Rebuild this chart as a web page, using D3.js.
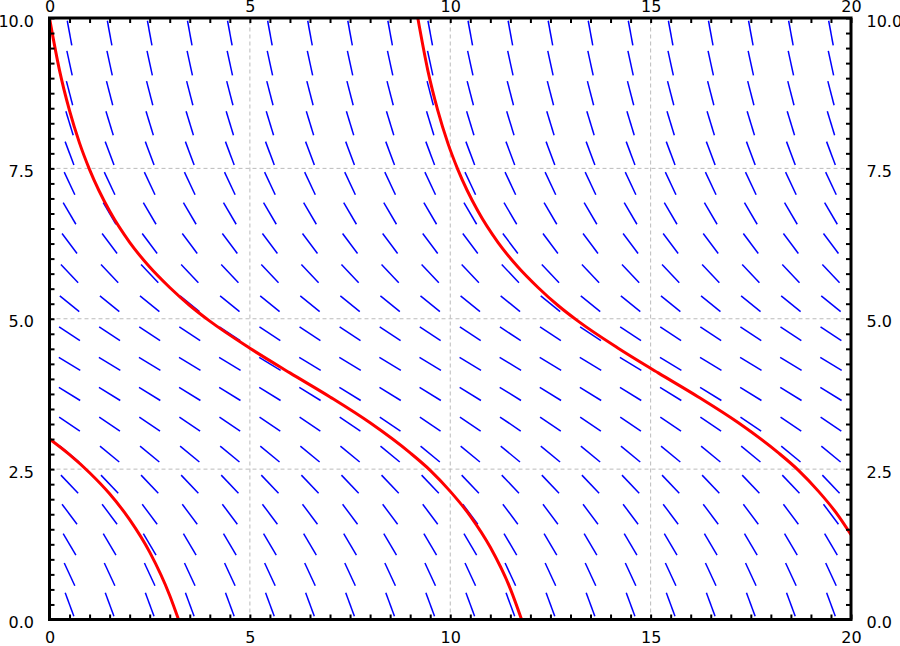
<!DOCTYPE html>
<html><head><meta charset="utf-8">
<script src="https://cdn.jsdelivr.net/npm/d3@7"></script>
<style>body{margin:0;background:#fff} svg{display:block}</style>
</head><body><svg id="chart" width="900" height="646"></svg>
<script>
// ---- data ----
const xTicks = [0, 5, 10, 15, 20];
const yTicks = [0, 2.5, 5, 7.5, 10];
const xGrid = [5, 10, 15];
const yGrid = [2.5, 5, 7.5];
const fieldX = [0.5,1.5,2.5,3.5,4.5,5.5,6.5,7.5,8.5,9.5,10.5,11.5,12.5,13.5,14.5,15.5,16.5,17.5,18.5,19.5];
const fieldY = [0.25,0.75,1.25,1.75,2.25,2.75,3.25,3.75,4.25,4.75,5.25,5.75,6.25,6.75,7.25,7.75,8.25,8.75,9.25,9.75];
const fieldSlopes = [-1.80,-1.43,-1.13,-0.89,-0.70,-0.55,-0.45,-0.41,-0.40,-0.44,-0.54,-0.70,-0.89,-1.13,-1.42,-1.78,-2.17,-2.58,-3.05,-3.62];
const curveA = [[0,10],[0.25,9.13],[0.5,8.46],[0.75,7.92],[1,7.48],[1.5,6.79],[2,6.27],[2.5,5.86],[3,5.52],[3.5,5.22],[4,4.96],[5,4.51],[6,4.10],[7,3.70],[8,3.27],[9,2.77],[9.5,2.48],[10,2.13],[10.5,1.72],[11,1.20],[11.5,0.51],[11.78,0]];
const curveB = [[0,3],[0.5,2.74],[1,2.44],[1.5,2.09],[2,1.66],[2.5,1.12],[3,0.40],[3.22,0]];
const curveC = [[9.19,10],[9.44,9.13],[9.69,8.46],[9.94,7.92],[10.19,7.48],[10.69,6.79],[11.19,6.27],[11.69,5.86],[12.19,5.52],[12.69,5.22],[13.19,4.96],[14.19,4.51],[15.19,4.10],[16.19,3.70],[17.19,3.27],[18.19,2.77],[18.69,2.48],[19.19,2.13],[19.69,1.72],[20,1.41]];

// ---- chart ----
const svg = d3.select("#chart");
const x = d3.scaleLinear().domain([0, 20]).range([49.5, 851]);
const y = d3.scaleLinear().domain([0, 10]).range([619.5, 18]);
const FONT = "'DejaVu Sans', sans-serif";

svg.append("defs").append("clipPath").attr("id", "clip")
  .append("rect").attr("x", x(0)).attr("y", y(10))
  .attr("width", x(20) - x(0)).attr("height", y(0) - y(10));

// grid
const grid = svg.append("g").attr("stroke", "#bbbbbb").attr("stroke-width", 1).attr("stroke-dasharray", "4,3");
grid.selectAll("line.vx").data(xGrid).join("line")
  .attr("x1", d => x(d)).attr("x2", d => x(d)).attr("y1", y(0)).attr("y2", y(10));
grid.selectAll("line.hy").data(yGrid).join("line")
  .attr("y1", d => y(d)).attr("y2", d => y(d)).attr("x1", x(0)).attr("x2", x(20));

// slope field
const segs = [];
fieldY.forEach((fy, i) => {
  fieldX.forEach(fx => segs.push({fx, fy, s: fieldSlopes[i]}));
});
const half = 12.5;
svg.append("g").attr("clip-path", "url(#clip)")
  .selectAll("line").data(segs).join("line")
  .attr("stroke", "#0000ff").attr("stroke-width", 1.5)
  .each(function(d) {
    const cx = x(d.fx), cy = y(d.fy);
    const dx = x(d.fx + 1) - cx, dy = y(d.fy + d.s) - cy;
    const L = Math.hypot(dx, dy);
    d3.select(this)
      .attr("x1", cx - dx / L * half).attr("y1", cy - dy / L * half)
      .attr("x2", cx + dx / L * half).attr("y2", cy + dy / L * half);
  });

// solution curves
const line = d3.line().x(d => x(d[0])).y(d => y(d[1])).curve(d3.curveMonotoneX);
svg.append("g").attr("clip-path", "url(#clip)")
  .selectAll("path").data([curveA, curveB, curveC]).join("path")
  .attr("d", line).attr("fill", "none").attr("stroke", "#ff0000").attr("stroke-width", 3);

// minor/major ticks (inward)
const xt = d3.range(0, 20.001, 0.5);
const yt = d3.range(0, 10.001, 0.25);
function tickAxis(axis, tx, ty) {
  const g = svg.append("g").attr("transform", `translate(${tx},${ty})`).call(axis);
  g.select(".domain").remove();
  g.selectAll(".tick line").attr("stroke", "#000").attr("stroke-width", 2);
  g.selectAll("text").remove();
}
tickAxis(d3.axisTop(x).tickValues(xt).tickSize(-5).tickFormat(""), 0, y(10));
tickAxis(d3.axisBottom(x).tickValues(xt).tickSize(-5).tickFormat(""), 0, y(0));
tickAxis(d3.axisLeft(y).tickValues(yt).tickSize(-5).tickFormat(""), x(0), 0);
tickAxis(d3.axisRight(y).tickValues(yt).tickSize(-5).tickFormat(""), x(20), 0);

// frame
svg.append("rect").attr("x", x(0)).attr("y", y(10))
  .attr("width", x(20) - x(0)).attr("height", y(0) - y(10))
  .attr("fill", "none").attr("stroke", "#000").attr("stroke-width", 3);

// labels
function labelAxis(axis, tx, ty, dy) {
  const g = svg.append("g").attr("transform", `translate(${tx},${ty})`).call(axis);
  g.select(".domain").remove();
  g.selectAll(".tick line").remove();
  g.selectAll("text").attr("font-family", FONT).attr("font-size", 16).attr("fill", "#000");
  if (dy !== undefined) g.selectAll("text").attr("dy", dy);
}
labelAxis(d3.axisTop(x).tickValues(xTicks).tickSize(0).tickPadding(6.5).tickFormat(d3.format("d")), 0, y(10), "0");
labelAxis(d3.axisBottom(x).tickValues(xTicks).tickSize(0).tickPadding(12).tickFormat(d3.format("d")), 0, y(0));
labelAxis(d3.axisLeft(y).tickValues(yTicks).tickSize(0).tickPadding(15.5).tickFormat(d3.format(".1f")), x(0), 0, "8px");
labelAxis(d3.axisRight(y).tickValues(yTicks).tickSize(0).tickPadding(15.5).tickFormat(d3.format(".1f")), x(20), 0, "8px");
</script></body></html>
